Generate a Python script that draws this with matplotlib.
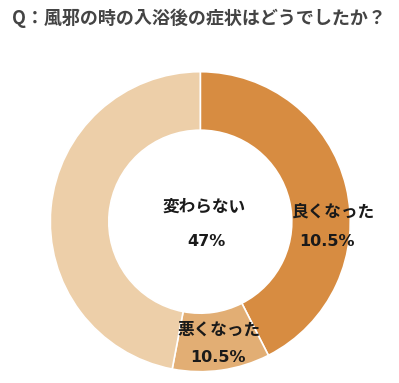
import matplotlib
matplotlib.use("Agg")
import matplotlib.pyplot as plt

plt.rcParams['font.family'] = ['Noto Sans CJK JP', 'DejaVu Sans']

title = "Q：風邪の時の入浴後の症状はどうでしたか？"
categories = ["良くなった", "悪くなった", "変わらない"]
values = [42.5, 10.5, 47.0]
display_pct = ["10.5%", "10.5%", "47%"]
colors = ["#D78C41", "#E2AE74", "#EDCFA9"]

W, H = 399, 383
fig = plt.figure(figsize=(W / 100, H / 100), dpi=100)
fig.patch.set_facecolor("white")

cx, cy, r = 200.3, 221.7, 150.0
ax = fig.add_axes([(cx - r) / W, (H - cy - r) / H, 2 * r / W, 2 * r / H])
ax.pie(values, colors=colors, startangle=90, counterclock=False,
       radius=1.0, wedgeprops=dict(width=0.39, edgecolor="white", linewidth=1.2))
ax.set_xlim(-1, 1)
ax.set_ylim(-1, 1)
ax.set_aspect("auto")
ax.axis("off")

def px(x, y):
    return ((x - cx) / r, (cy - y) / r)

label_pos = {
    "良くなった": ((333, 212), (327, 242)),
    "悪くなった": ((219, 330), (218, 357)),
    "変わらない": ((204, 207), (206, 241)),
}
for cat, pct in zip(categories, display_pct):
    p1, p2 = label_pos[cat]
    ax.text(*px(*p1), cat, ha="center", va="center", fontsize=12,
            fontweight="bold", color="#1a1a1a")
    ax.text(*px(*p2), pct, ha="center", va="center", fontsize=11.5,
            fontweight="bold", color="#1a1a1a", family="DejaVu Sans")

fig.text(12 / W, 1 - 18 / H, title, ha="left", va="center", fontsize=13,
         fontweight="bold", color="#444444")

fig.savefig("out.png", dpi=100)
